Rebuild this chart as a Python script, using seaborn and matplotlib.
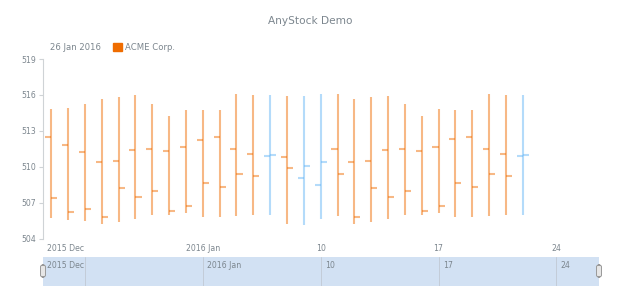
import numpy as np
import pandas as pd
import matplotlib
matplotlib.use("Agg")
import matplotlib.pyplot as plt
import matplotlib.dates as mdates
import seaborn as sns
from matplotlib.patches import FancyBboxPatch

# ---- data ----
start_date = "2015-12-25"
opens  = [512.47, 511.81, 511.20, 510.37, 510.50, 511.39, 511.47, 511.31, 511.64, 512.28,
          512.45, 511.50, 511.11, 510.89, 510.83, 509.08, 508.47, 511.50, 510.37, 510.50,
          511.39, 511.47, 511.31, 511.67, 512.30, 512.45, 511.50, 511.11, 510.89]
highs  = [514.81, 514.92, 515.25, 515.67, 515.83, 515.97, 515.25, 514.28, 514.78, 514.73,
          514.73, 516.12, 515.97, 516.03, 515.89, 515.92, 516.12, 516.12, 515.67, 515.81,
          515.95, 515.25, 514.25, 514.81, 514.73, 514.73, 516.12, 515.97, 516.03]
lows   = [505.70, 505.56, 505.45, 505.22, 505.36, 505.67, 505.97, 505.97, 506.17, 505.83,
          505.83, 505.89, 505.95, 505.97, 505.20, 505.11, 505.67, 505.92, 505.25, 505.42,
          505.67, 505.97, 505.97, 506.17, 505.83, 505.83, 505.92, 505.97, 505.97]
closes = [507.37, 506.20, 506.45, 505.81, 508.25, 507.45, 507.97, 506.33, 506.70, 508.64,
          508.33, 509.39, 509.22, 510.95, 509.92, 510.06, 510.42, 509.39, 505.81, 508.25,
          507.45, 507.97, 506.33, 506.72, 508.64, 508.33, 509.39, 509.22, 510.95]
series_name = "ACME Corp."
legend_date = "26 Jan 2016"
title = "AnyStock Demo"
y_ticks = [504, 507, 510, 513, 516, 519]
week_ticks = ["2015-12-27", "2016-01-03", "2016-01-10", "2016-01-17", "2016-01-24"]
week_labels = ["", "2016 Jan", "10", "17", "24"]
first_label = "2015 Dec"

RISE = "#64b5f6"
FALL = "#ef6c00"
TXT = "#7c868e"

sns.set_theme(style="white")
plt.rcParams['font.family'] = ['DejaVu Sans']

dates = pd.date_range(start_date, periods=len(opens), freq="D")
df = pd.DataFrame({"date": dates, "open": opens, "high": highs, "low": lows, "close": closes})
df["x"] = mdates.date2num(df["date"])
df["dir"] = np.where(df["close"] >= df["open"], "rise", "fall")

fig = plt.figure(figsize=(6.2, 3.0), dpi=100)
W, H = 620, 300
ax = fig.add_axes([43 / W, (H - 238.7) / H, 556 / W, (238.7 - 59) / H])
sc = fig.add_axes([43 / W, (H - 286) / H, 556 / W, 28.7 / H])

x0 = df["x"].iloc[0] - 0.49
x1 = df["x"].iloc[-1] + 4.53
half = 0.36

for d, col in (("fall", FALL), ("rise", RISE)):
    sub = df[df["dir"] == d]
    ax.vlines(sub["x"], sub["low"], sub["high"], color=col, alpha=0.48, lw=1.5)
    ax.hlines(sub["open"], sub["x"] - half, sub["x"], color=col, alpha=0.48, lw=1.5)
    ax.hlines(sub["close"], sub["x"], sub["x"] + half, color=col, alpha=0.48, lw=1.5)

ax.set_xlim(x0, x1)
ax.set_ylim(504, 519)
ax.set_yticks(y_ticks)
ax.set_yticklabels([str(v) for v in y_ticks])
ax.tick_params(axis="y", length=3, width=0.8, color="#cfd3d6", labelsize=5.6,
               labelcolor=TXT, pad=2, left=True)
wt = mdates.date2num(pd.to_datetime(week_ticks))
ax.set_xticks(wt[1:])
ax.set_xticklabels(week_labels[1:])
ax.tick_params(axis="x", length=0, labelsize=5.6, labelcolor=TXT, pad=4)
ax.text(0.008, -0.03, first_label, transform=ax.transAxes, ha="left", va="top",
        fontsize=5.6, color=TXT)
for s in ("top", "right", "bottom"):
    ax.spines[s].set_visible(False)
ax.spines["left"].set_color("#cfd3d6")
ax.spines["left"].set_linewidth(0.8)
ax.set_xlabel("")
ax.set_ylabel("")

# title and legend
fig.text(0.5, (H - 20.7) / H, title, ha="center", va="center", fontsize=7.6, color=TXT)
fig.text(50 / W, (H - 47) / H, legend_date, ha="left", va="center", fontsize=6.1, color=TXT)
fig.patches.append(plt.Rectangle((112.7 / W, (H - 51.3) / H), 9 / W, 8.5 / H,
                                 transform=fig.transFigure, color=FALL, figure=fig))
fig.text(125 / W, (H - 47) / H, series_name, ha="left", va="center", fontsize=6.1, color=TXT)

# scroller
sc.set_facecolor("#d2e1f3")
sc.set_xlim(x0, x1)
sc.set_ylim(0, 1)
for xv, lab in zip(wt, week_labels):
    sc.axvline(xv, color="#c3ccd8", lw=0.7)
    if lab:
        sc.text(xv + 0.25, 0.72, lab, ha="left", va="center", fontsize=5.6, color=TXT)
sc.text(0.007, 0.72, first_label, transform=sc.transAxes, ha="left", va="center",
        fontsize=5.6, color=TXT)
sc.set_xticks([])
sc.set_yticks([])
for s in sc.spines.values():
    s.set_visible(False)

for hx in (43, 599):
    fig.patches.append(FancyBboxPatch(((hx - 2.5) / W, (H - 277) / H), 5 / W, 12 / H,
                                      boxstyle="round,pad=0,rounding_size=0.006",
                                      transform=fig.transFigure, facecolor="#e6e6e6",
                                      edgecolor="#999999", lw=0.7, figure=fig))

fig.savefig("out.png", dpi=100, facecolor="white")
